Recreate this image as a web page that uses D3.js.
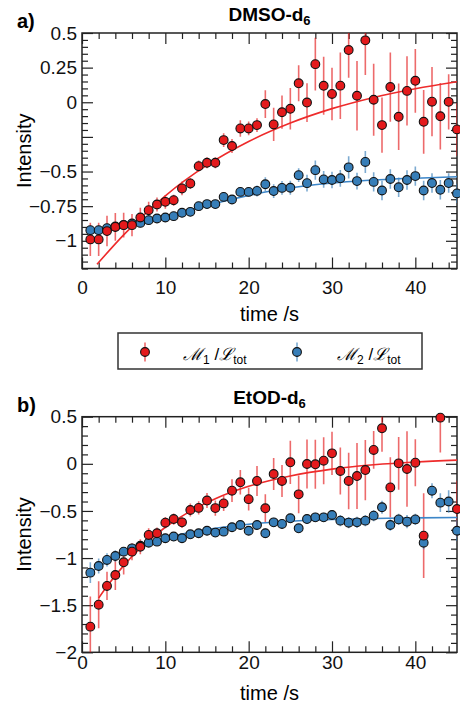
<!DOCTYPE html>
<html>
<head>
<meta charset="utf-8">
<script src="https://cdn.jsdelivr.net/npm/d3@7"></script>
<style>
  body { margin: 0; background: #fff; }
  svg { display: block; font-family: "Liberation Sans", Arial, sans-serif; }
</style>
</head>
<body>
<svg id="chart" width="460" height="706"></svg>
<script>
// time points (s)
const times = [1, 2, 3, 4, 5, 6, 7, 8, 9, 10, 11, 12, 13, 14, 15, 16, 17, 18, 19, 20, 21, 22, 23,
  24, 25, 26, 27, 28, 29, 30, 31, 32, 33, 34, 35, 36, 37, 38, 39, 40, 41, 42, 43, 44, 45];

// a) DMSO-d6
const dmsoM1 = [-0.99, -0.99, -0.93, -0.9, -0.887, -0.887, -0.832, -0.779, -0.738, -0.719, -0.707,
  -0.622, -0.586, -0.461, -0.437, -0.437, -0.273, -0.316, -0.189, -0.189, -0.165, -0.013, -0.16,
  -0.072, -0.047, 0.137, -0.002, 0.275, 0.119, 0.06, 0.12, 0.377, 0.047, 0.447, 0.018, -0.165,
  0.11, -0.105, 0.082, 0.155, -0.141, 0.004, -0.101, 0.003, -0.196];
const dmsoM1Err = [0.12, 0.12, 0.11, 0.1, 0.09, 0.08, 0.07, 0.06, 0.05, 0.05, 0.04, 0.05, 0.04,
  0.04, 0.04, 0.04, 0.05, 0.05, 0.06, 0.05, 0.05, 0.1, 0.12, 0.12, 0.15, 0.13, 0.14, 0.19, 0.21,
  0.19, 0.24, 0.2, 0.25, 0.25, 0.26, 0.2, 0.25, 0.24, 0.25, 0.23, 0.23, 0.25, 0.24, 0.2, 0.19];
const dmsoM2 = [-0.923, -0.923, -0.909, -0.897, -0.885, -0.875, -0.871, -0.851, -0.839, -0.832,
  -0.822, -0.798, -0.791, -0.75, -0.735, -0.735, -0.683, -0.702, -0.647, -0.647, -0.64, -0.592,
  -0.641, -0.618, -0.617, -0.526, -0.584, -0.49, -0.557, -0.561, -0.549, -0.47, -0.569, -0.431,
  -0.575, -0.637, -0.554, -0.614, -0.561, -0.533, -0.637, -0.583, -0.632, -0.583, -0.658];
const dmsoM2Err = [0.02, 0.02, 0.02, 0.02, 0.02, 0.02, 0.02, 0.02, 0.02, 0.02, 0.03, 0.03, 0.03,
  0.03, 0.03, 0.03, 0.03, 0.03, 0.03, 0.03, 0.04, 0.05, 0.05, 0.05, 0.05, 0.05, 0.06, 0.07, 0.06,
  0.06, 0.06, 0.08, 0.06, 0.08, 0.07, 0.07, 0.07, 0.07, 0.07, 0.07, 0.07, 0.07, 0.07, 0.07, 0.07];
const dmsoM1FitT = [1.8, 5, 10, 15, 20, 25, 30, 35, 40, 45];
const dmsoM1Fit = [-1.17, -0.957, -0.675, -0.454, -0.283, -0.15, -0.046, 0.035, 0.098, 0.148];
const dmsoM2FitT = [1, 4, 8, 11, 14, 18, 22, 26, 30, 34, 40, 45];
const dmsoM2Fit = [-0.945, -0.915, -0.862, -0.815, -0.762, -0.7, -0.648, -0.61, -0.583, -0.565,
  -0.548, -0.538];

// b) EtOD-d6
const etodM1 = [-1.728, -1.495, -1.296, -1.18, -1.045, -0.932, -0.88, -0.755, -0.737, -0.625,
  -0.586, -0.621, -0.49, -0.468, -0.39, -0.47, -0.42, -0.285, -0.196, -0.375, -0.182, -0.472,
  -0.108, -0.182, 0.016, -0.324, -0.002, -0.005, 0.033, 0.111, -0.076, -0.182, -0.13, -0.066,
  0.147, 0.377, -0.25, 0.005, -0.055, 0.012, -0.762, null, 0.49, null, -0.48];
const etodM1Err = [0.32, 0.25, 0.15, 0.16, 0.13, 0.09, 0.08, 0.07, 0.06, 0.06, 0.06, 0.06, 0.07,
  0.07, 0.08, 0.08, 0.08, 0.12, 0.13, 0.12, 0.16, 0.15, 0.17, 0.17, 0.23, 0.2, 0.26, 0.26, 0.25,
  0.23, 0.25, 0.3, 0.35, 0.32, 0.2, 0.25, 0.32, 0.28, 0.4, 0.25, 0.45, null, 0.37, null, 0.3];
const etodM2 = [-1.155, -1.084, -1.02, -0.978, -0.932, -0.897, -0.87, -0.837, -0.826, -0.79,
  -0.772, -0.79, -0.748, -0.737, -0.71, -0.73, -0.72, -0.673, -0.649, -0.71, -0.649, -0.737,
  -0.621, -0.638, -0.578, -0.684, -0.586, -0.568, -0.568, -0.543, -0.603, -0.625, -0.621, -0.603,
  -0.55, -0.461, -0.649, -0.59, -0.614, -0.59, -0.837, -0.285, -0.412, -0.4, -0.71];
const etodM2Err = [0.11, 0.08, 0.07, 0.06, 0.05, 0.05, 0.04, 0.04, 0.04, 0.04, 0.04, 0.04, 0.04,
  0.04, 0.04, 0.04, 0.04, 0.04, 0.04, 0.04, 0.05, 0.05, 0.05, 0.05, 0.05, 0.05, 0.05, 0.05, 0.05,
  0.05, 0.06, 0.06, 0.06, 0.06, 0.06, 0.07, 0.06, 0.06, 0.07, 0.06, 0.07, 0.08, 0.1, 0.12, 0.11];
const etodM1FitT = [2, 3, 5, 7, 10, 13, 16, 20, 25, 30, 35, 40, 45];
const etodM1Fit = [-1.425, -1.3, -1.08, -0.896, -0.673, -0.502, -0.37, -0.239, -0.129, -0.056,
  -0.01, 0.02, 0.039];
const etodM2FitT = [1, 3, 5, 8, 12, 16, 20, 25, 30, 35, 40, 45];
const etodM2Fit = [-1.155, -1.041, -0.949, -0.843, -0.746, -0.683, -0.641, -0.61, -0.591, -0.58,
  -0.574, -0.57];

// axis ticks
const xTicks = [0, 10, 20, 30, 40];
const dmsoYTicks = [-1, -0.75, -0.5, -0.25, 0, 0.25, 0.5];
const etodYTicks = [-2, -1.5, -1, -0.5, 0, 0.5];

const red = '#e41a1c';
const blue = '#377eb8';

const svg = d3.select('#chart');
const left = 82; // plot left edge
const right = 457; // plot right edge
const x = d3.scaleLinear().domain([0, 45]).range([left, right]);

function drawPanel(p) {
  const y = d3.scaleLinear().domain(p.yDomain).range([p.bottom, p.top]);
  const g = svg.append('g');

  g.append('clipPath')
    .attr('id', p.id + '-clip')
    .append('rect')
    .attr('x', left)
    .attr('y', p.top)
    .attr('width', right - left)
    .attr('height', p.bottom - p.top);

  // minor ticks (inward, all four sides)
  const xMinor = d3.range(0, 45.01, 2).filter((v) => v % 10 !== 0);
  const yMinor = d3.range(p.yDomain[0], p.yDomain[1] + 1e-6, p.yMinorStep)
    .filter((v) => !p.yTicks.some((t) => Math.abs(t - v) < 1e-6));

  const addAxis = (axis, tx, ty) => {
    const a = g.append('g').attr('transform', `translate(${tx},${ty})`).call(axis);
    a.select('.domain').remove();
    a.selectAll('line').attr('stroke', '#222').attr('stroke-width', 1.2);
    return a;
  };

  addAxis(d3.axisBottom(x).tickValues(xMinor).tickSize(-6).tickFormat(''), 0, p.bottom);
  addAxis(d3.axisTop(x).tickValues(xMinor).tickSize(-6).tickFormat(''), 0, p.top);
  addAxis(d3.axisLeft(y).tickValues(yMinor).tickSize(-6).tickFormat(''), left, 0);
  addAxis(d3.axisRight(y).tickValues(yMinor).tickSize(-6).tickFormat(''), right, 0);

  const xa = addAxis(d3.axisBottom(x).tickValues(xTicks).tickSize(-11).tickPadding(p.xPad), 0, p.bottom);
  addAxis(d3.axisTop(x).tickValues(xTicks).tickSize(-11).tickFormat(''), 0, p.top);
  const ya = addAxis(
    d3.axisLeft(y).tickValues(p.yTicks).tickSize(-11).tickPadding(5)
      .tickFormat((d) => (p.hideLabels.includes(d) ? '' : d3.format('')(d))),
    left, 0);
  addAxis(d3.axisRight(y).tickValues(p.yTicks).tickSize(-11).tickFormat(''), right, 0);

  [xa, ya].forEach((a) => a.selectAll('text')
    .attr('fill', '#111')
    .style('font-size', '19px')
    .style('font-family', '"Liberation Sans", Arial, sans-serif'));

  // frame
  g.append('rect')
    .attr('x', left)
    .attr('y', p.top)
    .attr('width', right - left)
    .attr('height', p.bottom - p.top)
    .attr('fill', 'none')
    .attr('stroke', '#222')
    .attr('stroke-width', 1.5);

  const plot = g.append('g').attr('clip-path', `url(#${p.id}-clip)`);

  // error bars
  p.series.forEach((s) => {
    const pts = times.map((t, i) => ({ t, v: s.values[i], e: s.errors[i] })).filter((d) => d.v !== null);
    plot.append('g')
      .selectAll('line')
      .data(pts)
      .join('line')
      .attr('x1', (d) => x(d.t))
      .attr('x2', (d) => x(d.t))
      .attr('y1', (d) => y(d.v - d.e))
      .attr('y2', (d) => y(d.v + d.e))
      .attr('stroke', s.color)
      .attr('stroke-opacity', 0.65)
      .attr('stroke-width', 1.6);
  });

  // fit lines
  p.series.forEach((s) => {
    const line = d3.line()
      .x((d) => x(d[0]))
      .y((d) => y(d[1]))
      .curve(d3.curveMonotoneX);
    plot.append('path')
      .datum(s.fitT.map((t, i) => [t, s.fit[i]]))
      .attr('d', line)
      .attr('fill', 'none')
      .attr('stroke', s.lineColor)
      .attr('stroke-width', 1.6);
  });

  // markers: blue first, red on top
  p.series.slice().reverse().forEach((s) => {
    const pts = times.map((t, i) => ({ t, v: s.values[i] })).filter((d) => d.v !== null);
    g.append('g')
      .selectAll('circle')
      .data(pts)
      .join('circle')
      .attr('cx', (d) => x(d.t))
      .attr('cy', (d) => y(d.v))
      .attr('r', 4.4)
      .attr('fill', s.color)
      .attr('stroke', '#111')
      .attr('stroke-width', 1.1);
  });

  // texts
  g.append('text')
    .attr('x', 17)
    .attr('y', p.tagY)
    .style('font-size', '20px')
    .style('font-weight', 'bold')
    .text(p.tag);

  const title = g.append('text')
    .attr('x', (left + right) / 2)
    .attr('y', p.titleY)
    .attr('text-anchor', 'middle')
    .style('font-size', '19px')
    .style('font-weight', 'bold');
  title.append('tspan').text(p.title);
  title.append('tspan').attr('dy', 4).style('font-size', '13px').text('6');

  g.append('text')
    .attr('transform', `translate(31,${(p.top + p.bottom) / 2}) rotate(-90)`)
    .attr('text-anchor', 'middle')
    .style('font-size', '20px')
    .text('Intensity');

  g.append('text')
    .attr('x', (left + right) / 2)
    .attr('y', p.xLabelY)
    .attr('text-anchor', 'middle')
    .style('font-size', '20px')
    .text('time /s');
}

drawPanel({
  id: 'dmso',
  top: 33,
  bottom: 268.5,
  yDomain: [-1.2, 0.5],
  yTicks: dmsoYTicks,
  hideLabels: [-0.25],
  yMinorStep: 0.05,
  xPad: 12,
  tag: 'a)',
  tagY: 28,
  title: 'DMSO-d',
  titleY: 21,
  xLabelY: 321,
  series: [
    { values: dmsoM1, errors: dmsoM1Err, fitT: dmsoM1FitT, fit: dmsoM1Fit, color: red, lineColor: '#ee2b2b' },
    { values: dmsoM2, errors: dmsoM2Err, fitT: dmsoM2FitT, fit: dmsoM2Fit, color: blue, lineColor: '#3d86c8' },
  ],
});

drawPanel({
  id: 'etod',
  top: 416.7,
  bottom: 652.3,
  yDomain: [-2, 0.5],
  yTicks: etodYTicks,
  hideLabels: [],
  yMinorStep: 0.1,
  xPad: 3,
  tag: 'b)',
  tagY: 412,
  title: 'EtOD-d',
  titleY: 404,
  xLabelY: 700,
  series: [
    { values: etodM1, errors: etodM1Err, fitT: etodM1FitT, fit: etodM1Fit, color: red, lineColor: '#ee2b2b' },
    { values: etodM2, errors: etodM2Err, fitT: etodM2FitT, fit: etodM2Fit, color: blue, lineColor: '#3d86c8' },
  ],
});

// Legend
const legend = svg.append('g');
legend.append('rect')
  .attr('x', 118)
  .attr('y', 333)
  .attr('width', 304)
  .attr('height', 36)
  .attr('fill', 'none')
  .attr('stroke', '#333')
  .attr('stroke-width', 1.5);

const legendItems = [
  { color: red, sub: '1', cx: 145, tx: 183 },
  { color: blue, sub: '2', cx: 297, tx: 337 },
];
legendItems.forEach((d) => {
  legend.append('line')
    .attr('x1', d.cx).attr('x2', d.cx)
    .attr('y1', 342.5).attr('y2', 361.5)
    .attr('stroke', d.color)
    .attr('stroke-opacity', 0.65)
    .attr('stroke-width', 1.6);
  legend.append('circle')
    .attr('cx', d.cx)
    .attr('cy', 352)
    .attr('r', 4.4)
    .attr('fill', d.color)
    .attr('stroke', '#111')
    .attr('stroke-width', 1.1);
  const t = legend.append('text')
    .attr('x', d.tx)
    .attr('y', 360)
    .style('font-size', '17px');
  t.append('tspan').style('font-family', '"DejaVu Serif", serif').style('font-style', 'italic').text('ℳ');
  t.append('tspan').attr('dy', 4).style('font-size', '12px').text(d.sub);
  t.append('tspan').attr('dy', -4).text(' /');
  t.append('tspan').style('font-family', '"DejaVu Serif", serif').style('font-style', 'italic').text('ℒ');
  t.append('tspan').attr('dy', 4).style('font-size', '12px').text('tot');
});
</script>
</body>
</html>
